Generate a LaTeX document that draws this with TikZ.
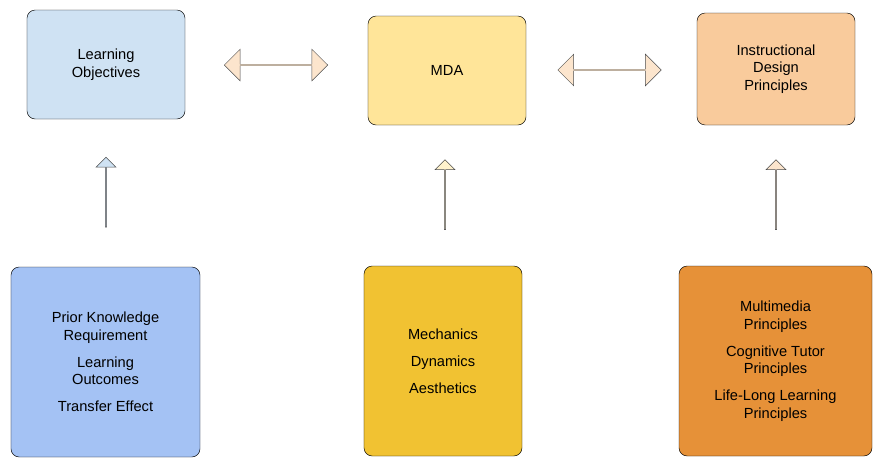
\documentclass[tikz,border=0pt]{standalone}
\usepackage{fontspec}
\setmainfont{Liberation Sans}
\usetikzlibrary{shapes.arrows}
\definecolor{objblue}{HTML}{CFE2F3}
\definecolor{mdayellow}{HTML}{FFE599}
\definecolor{idpeach}{HTML}{F9CB9C}
\definecolor{knowblue}{HTML}{A4C2F4}
\definecolor{mechgold}{HTML}{F1C232}
\definecolor{mmorange}{HTML}{E69138}
\definecolor{arrpeach}{HTML}{FCE5CD}
\definecolor{arrcream}{HTML}{FFF2CC}
\tikzset{
    box/.style = {draw=black, rounded corners=7pt, align=center, font=\fontsize{12.5}{15}\selectfont, inner sep=0pt},
    biarrow/.style = {draw=black!70, double arrow, double arrow head extend=4pt, minimum height=3.1cm, minimum width=0.95cm, inner sep=0pt},
    uparrow/.style = {draw=black!70, single arrow, single arrow head extend=3pt, shape border rotate=90, minimum height=2.1cm, minimum width=0.6cm, inner sep=0pt}
}
\begin{document}
\begin{tikzpicture}[x=0.03cm, y=-0.03cm]
    \useasboundingbox (0,0) rectangle (885,471);

    % Top row
    \node[box, fill=objblue, minimum width=4.74cm, minimum height=3.27cm] (objectives) at (106,64.5) {Learning\\Objectives};
    \node[box, fill=mdayellow, minimum width=4.74cm, minimum height=3.27cm] (mda) at (447,70.5) {MDA};
    \node[box, fill=idpeach, minimum width=4.74cm, minimum height=3.36cm] (design) at (776,69) {Instructional\\Design\\Principles};

    % Bottom row
    \node[box, fill=knowblue, minimum width=5.67cm, minimum height=5.7cm] (knowledge) at (105.5,362) {Prior Knowledge\\Requirement\\[8pt]Learning\\Outcomes\\[8pt]Transfer Effect};
    \node[box, fill=mechgold, minimum width=4.74cm, minimum height=5.7cm] (mechanics) at (443,361) {Mechanics\\[8pt]Dynamics\\[8pt]Aesthetics};
    \node[box, fill=mmorange, minimum width=5.79cm, minimum height=5.7cm] (principles) at (775.5,361) {Multimedia\\Principles\\[8pt]Cognitive Tutor\\Principles\\[8pt]Life-Long Learning\\Principles};

    % Block arrows
    \node[biarrow, fill=arrpeach] (linkleft) at (276,65) {};
    \node[biarrow, fill=arrpeach] (linkright) at (609.5,70) {};
    \node[uparrow, fill=objblue] (upleft) at (106,192.5) {};
    \node[uparrow, fill=arrcream] (upmid) at (445,195) {};
    \node[uparrow, fill=arrpeach] (upright) at (776,195) {};
\end{tikzpicture}
\end{document}
